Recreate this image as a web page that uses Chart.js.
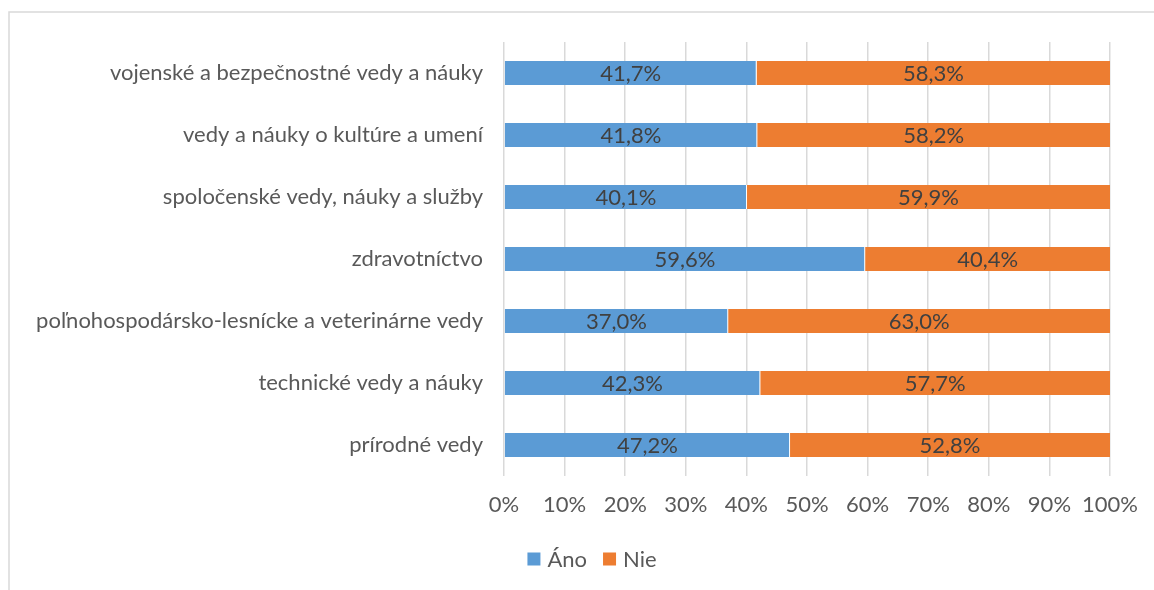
<!DOCTYPE html>
<html>
<head>
<meta charset="utf-8">
<script src="https://cdn.jsdelivr.net/npm/chart.js@4/dist/chart.umd.min.js"></script>
<style>
  html, body { margin: 0; padding: 0; background: #fff; }
  #wrap { width: 1154px; height: 590px; position: relative; }
</style>
</head>
<body>
<div id="wrap"><canvas id="chart"></canvas></div>
<script>
const categories = [
  "vojenské a bezpečnostné vedy a náuky",
  "vedy a náuky o kultúre a umení",
  "spoločenské vedy, náuky a služby",
  "zdravotníctvo",
  "poľnohospodársko-lesnícke a veterinárne vedy",
  "technické vedy a náuky",
  "prírodné vedy"
];
const anoValues = [41.7, 41.8, 40.1, 59.6, 37.0, 42.3, 47.2];
const nieValues = [58.3, 58.2, 59.9, 40.4, 63.0, 57.7, 52.8];
const xTicks = [0, 10, 20, 30, 40, 50, 60, 70, 80, 90, 100];

const FONT = 'Lato, "Open Sans", sans-serif';
const SIZE = 22;
const fmt = v => v.toFixed(1).replace(".", ",") + "%";

// light frame around the chart (runs off the right/bottom edge)
const framePlugin = {
  id: "frame",
  beforeDraw(chart) {
    const ctx = chart.ctx;
    ctx.save();
    ctx.strokeStyle = "#d9d9d9";
    ctx.lineWidth = 1.5;
    ctx.strokeRect(9, 12, chart.width + 20, chart.height + 20);
    ctx.restore();
  }
};

// value labels centred inside each segment
const valueLabels = {
  id: "valueLabels",
  afterDatasetsDraw(chart) {
    const ctx = chart.ctx;
    ctx.save();
    ctx.font = SIZE + "px " + FONT;
    ctx.fillStyle = "#404040";
    ctx.textAlign = "center";
    ctx.textBaseline = "middle";
    chart.data.datasets.forEach((ds, i) => {
      chart.getDatasetMeta(i).data.forEach((bar, j) => {
        const cx = (bar.x + bar.base) / 2;
        ctx.fillText(fmt(ds.data[j]), cx, bar.y + 1);
      });
    });
    ctx.restore();
  }
};

// legend row under the axis, centred on the frame
const bottomLegend = {
  id: "bottomLegend",
  afterDraw(chart) {
    const ctx = chart.ctx;
    const box = 13, gapText = 7, gapItem = 16;
    const centerX = 592, centerY = 559;
    ctx.save();
    ctx.font = SIZE + "px " + FONT;
    ctx.textBaseline = "middle";
    const items = chart.data.datasets.map(ds => ({
      text: ds.label, color: ds.backgroundColor, w: ctx.measureText(ds.label).width
    }));
    const total = items.reduce((s, it) => s + box + gapText + it.w, 0) + gapItem * (items.length - 1);
    let x = centerX - total / 2;
    items.forEach(it => {
      ctx.fillStyle = it.color;
      ctx.fillRect(x, centerY - box / 2, box, box);
      x += box + gapText;
      ctx.fillStyle = "#595959";
      ctx.fillText(it.text, x, centerY + 1);
      x += it.w + gapItem;
    });
    ctx.restore();
  }
};

new Chart(document.getElementById("chart"), {
  type: "bar",
  data: {
    labels: categories,
    datasets: [
      { label: "Áno", data: anoValues, backgroundColor: "#5B9BD5", borderColor: "#ffffff", borderWidth: { right: 1 }, borderSkipped: false },
      { label: "Nie", data: nieValues, backgroundColor: "#ED7D31", borderColor: "#ffffff", borderWidth: 0 }
    ]
  },
  options: {
    indexAxis: "y",
    responsive: true,
    maintainAspectRatio: false,
    animation: false,
    layout: { padding: { top: 42, left: 10, right: 43, bottom: 57 } },
    datasets: { bar: { barPercentage: 0.39, categoryPercentage: 1.0 } },
    scales: {
      x: {
        stacked: true,
        min: 0,
        max: 100,
        afterBuildTicks: axis => { axis.ticks = xTicks.map(v => ({ value: v })); },
        grid: { color: "#d9d9d9", lineWidth: 1.5, drawTicks: false },
        border: { display: false },
        ticks: {
          padding: 16,
          maxRotation: 0,
          autoSkip: false,
          color: "#595959",
          font: { family: FONT, size: SIZE },
          callback: v => v + "%"
        },
        afterFit: axis => { axis.height = 57; }
      },
      y: {
        stacked: true,
        grid: { display: false },
        border: { display: false },
        ticks: {
          padding: 13,
          color: "#595959",
          font: { family: FONT, size: SIZE }
        },
        afterFit: axis => { axis.width = 494; }
      }
    },
    plugins: {
      legend: { display: false },
      tooltip: { enabled: false }
    }
  },
  plugins: [framePlugin, valueLabels, bottomLegend]
});
</script>
</body>
</html>
